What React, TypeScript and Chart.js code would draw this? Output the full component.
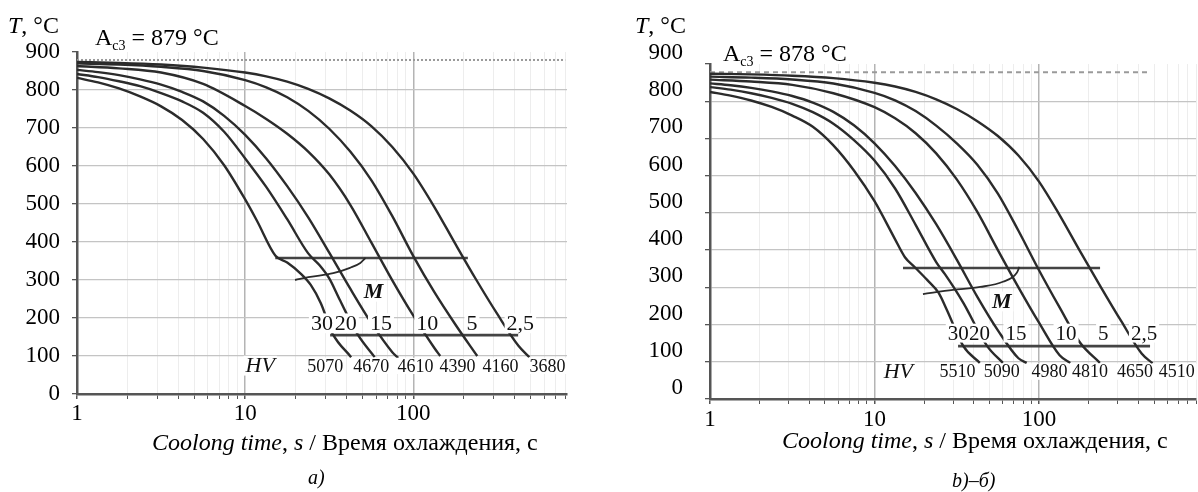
import React, { useEffect, useRef } from "react";
import { Chart, registerables } from "chart.js";
Chart.register(...registerables);

const SERIF = "'Liberation Serif', 'Times New Roman', Times, serif";

// ---------------- shared tick values ----------------
const xGridValues = [1, 2, 3, 4, 5, 6, 7, 8, 9, 10, 20, 30, 40, 50, 60, 70, 80, 90, 100, 200, 300, 400, 500, 600, 700, 800, 900];
const xLabelValues = [1, 10, 100];
const yLabelStep = 100;
const yGridStep = 50;
const yMin = 0;
const yMax = 900;
const rateLabels = ["30", "20", "15", "10", "5", "2,5"];

// ---------------- panel a) : cooling curves (time s, temperature °C) ----------------
const aXMax = 820;
const aAc3 = 879;
const a30_t = [1, 1.334, 1.778, 2.371, 3.162, 4.217, 5.623, 7.499, 10, 11.75, 15.14, 17.78, 21.38, 24.55, 28.18, 33.11, 42.66];
const a30_T = [832, 820, 804, 783, 757, 721, 671, 602, 512, 456, 364, 346, 317, 287, 239, 159, 97];
const a20_t = [1, 1.334, 1.778, 2.371, 3.162, 4.217, 5.623, 7.499, 10, 13.34, 17.78, 23.71, 27.54, 31.62, 36.31, 46.77, 58.88];
const a20_T = [842, 834, 823, 810, 792, 770, 740, 690, 620, 545, 460, 370, 340, 304, 250, 156, 97];
const a15_t = [1, 1.334, 1.778, 2.371, 3.162, 4.217, 5.623, 7.499, 10, 13.34, 17.78, 23.71, 31.62, 42.17, 56.23, 74.99, 81.28];
const a15_T = [853, 847, 839, 828, 814, 795, 770, 732, 682, 620, 547, 465, 372, 277, 187, 110, 95];
const a10_t = [1, 1.778, 3.162, 5.623, 10, 13.34, 17.78, 23.71, 31.62, 42.17, 56.23, 74.99, 100, 133.4, 144.5];
const a10_T = [863, 857, 846, 816, 758, 724, 685, 638, 578, 498, 399, 299, 206, 121, 100];
const a5_t = [1, 1.778, 3.162, 5.623, 10, 13.34, 17.78, 23.71, 31.62, 42.17, 56.23, 74.99, 100, 133.4, 177.8, 239.9];
const a5_T = [870, 867, 861, 850, 826, 807, 781, 745, 698, 638, 563, 468, 363, 268, 183, 100];
const a25_t = [1, 1.778, 3.162, 5.623, 10, 13.34, 17.78, 23.71, 31.62, 42.17, 56.23, 74.99, 100, 133.4, 177.8, 237.1, 316.2, 421.7, 489.8];
const a25_T = [874, 871.5, 867, 859, 846, 836, 822, 803, 778, 746, 705, 650, 580, 492, 395, 300, 210, 127, 97];
const aM_t = [19.8, 24.4, 33.4, 42, 48.4, 52];
const aM_T = [300, 308, 318, 332, 345, 358];
const aUpper_t = [15.1, 211];
const aUpper_T = 358;
const aLower_t = [32, 420];
const aLower_T = 155;
const aRateTimes = [28.6, 39.7, 64.2, 121, 223, 433];
const aRateTemp = 186;
const aHv = ["5070", "4670", "4610", "4390", "4160", "3680"];
const aHvTimes = [29.9, 56.2, 103, 183, 330, 628];
const aHvTemp = 74;
const aHvLabelPos = [12.3, 74.5];
const aMLabelPos = [58, 269];
const aAc3Span = [1, 800];

// ---------------- panel b) : cooling curves (time s, temperature °C) ----------------
const bXMax = 900;
const bAc3 = 878;
const b30_t = [1, 1.334, 1.778, 2.371, 3.162, 4.217, 5.623, 7.499, 10, 13.34, 15.31, 17.58, 20.89, 24.55, 27.54, 34.67, 43.65];
const b30_T = [825, 815, 802, 784.5, 761.5, 731.5, 681.5, 614, 531.5, 429, 381, 354, 320, 285, 239, 142, 97];
const b20_t = [1, 1.334, 1.778, 2.371, 3.162, 4.217, 5.623, 7.499, 10, 13.34, 17.78, 23.71, 26.92, 30.2, 34.67, 48.42, 60.26];
const b20_T = [838, 831, 821.5, 809, 793, 770.5, 739.5, 695.5, 640.5, 565.5, 468, 368, 334, 301, 258, 142, 97];
const b15_t = [1, 1.334, 1.778, 2.371, 3.162, 4.217, 5.623, 7.499, 10, 13.34, 17.78, 23.71, 31.62, 42.17, 56.23, 74.99, 84.14];
const b15_T = [848, 843, 836, 826.5, 814, 796.5, 771.5, 735.5, 687, 626, 553.5, 469.5, 374.5, 274.5, 184.5, 109.5, 97];
const b10_t = [1, 1.778, 3.162, 5.623, 10, 13.34, 17.78, 23.71, 31.62, 42.17, 56.23, 74.99, 100, 133.4, 154.9];
const b10_T = [858, 853, 844, 821.5, 784, 754, 714, 660, 590, 502.5, 400, 300, 205, 117.5, 97];
const b5_t = [1, 1.778, 3.162, 5.623, 10, 13.34, 17.78, 23.71, 31.62, 42.17, 56.23, 74.99, 100, 133.4, 177.8, 234.4];
const b5_T = [866, 863.5, 858.5, 847.5, 822.5, 802.5, 773.5, 734.5, 687, 629.5, 552, 452, 346, 246, 151, 97];
const b25_t = [1, 1.778, 3.162, 5.623, 10, 13.34, 17.78, 23.71, 31.62, 42.17, 56.23, 74.99, 100, 133.4, 177.8, 237.1, 316.2, 421.7, 489.8];
const b25_T = [874, 872, 868.5, 862, 849.5, 839.5, 825, 805, 779, 746.5, 706.5, 654, 584, 494, 396.5, 301.5, 209, 121.5, 96];
const bM_t = [19.7, 30, 43.9, 60.3, 73.3, 76];
const bM_T = [282, 293, 301, 315, 339, 355];
const bUpper_t = [14.9, 235];
const bUpper_T = 352;
const bLower_t = [32.2, 473];
const bLower_T = 142;
const bRateTimes = [32.3, 43.5, 72.4, 146, 246, 435];
const bRateTemp = 177;
const bHv = ["5510", "5090", "4980", "4810", "4650", "4510"];
const bHvTimes = [31.9, 59.3, 115.6, 204, 383, 687];
const bHvTemp = 73.4;
const bHvLabelPos = [13.96, 73.4];
const bMLabelPos = [59.3, 262];
const bAc3Span = [1, 454];

type Note = { text: string; t: number; T: number; size: number; style: string; box: boolean };

function notesPlugin(notes: Note[]) {
  return {
    id: "notes",
    afterDatasetsDraw(chart: any) {
      const { ctx } = chart;
      const xs = chart.scales.x;
      const ys = chart.scales.y;
      ctx.save();
      ctx.textAlign = "center";
      ctx.textBaseline = "middle";
      for (const n of notes) {
        if (!n.box) continue;
        const px = xs.getPixelForValue(n.t);
        const py = ys.getPixelForValue(n.T);
        ctx.font = `${n.style} ${n.size}px ${SERIF}`;
        const w = ctx.measureText(n.text).width;
        const h = n.size * 0.9;
        ctx.fillStyle = "#ffffff";
        ctx.fillRect(px - w / 2 - 2, py - h / 2, w + 4, h);
      }
      for (const n of notes) {
        const px = xs.getPixelForValue(n.t);
        const py = ys.getPixelForValue(n.T);
        ctx.font = `${n.style} ${n.size}px ${SERIF}`;
        ctx.fillStyle = "#111";
        ctx.fillText(n.text, px, py + 1);
      }
      ctx.restore();
    },
  };
}

type PanelSpec = {
  width: number;
  height: number;
  xMax: number;
  yAxisW: number;
  xAxisH: number;
  padTop: number;
  padRight: number;
  yTickPad: number;
  xTickPad: number;
  yLabelOffset: number;
  curves: [number[], number[]][];
  mCurve: [number[], number[]];
  upper: [number[], number];
  lower: [number[], number];
  ac3: number;
  ac3Span: number[];
  ac3Dash: number[];
  notes: Note[];
};

function pts(ts: number[], Ts: number[]) {
  return ts.map((t, i) => ({ x: t, y: Ts[i] }));
}

function makeConfig(p: PanelSpec): any {
  const curveColor = "#2b2b2b";
  const datasets: any[] = p.curves.map(([ts, Ts]) => ({
    data: pts(ts, Ts),
    borderColor: curveColor,
    borderWidth: 2.4,
    pointRadius: 0,
    cubicInterpolationMode: "monotone",
    fill: false,
  }));
  datasets.push({
    data: pts(p.mCurve[0], p.mCurve[1]),
    borderColor: curveColor,
    borderWidth: 1.8,
    pointRadius: 0,
    cubicInterpolationMode: "monotone",
    fill: false,
  });
  datasets.push({
    data: p.upper[0].map((t) => ({ x: t, y: p.upper[1] })),
    borderColor: "#444",
    borderWidth: 2.6,
    pointRadius: 0,
    fill: false,
  });
  datasets.push({
    data: p.lower[0].map((t) => ({ x: t, y: p.lower[1] })),
    borderColor: "#444",
    borderWidth: 2.6,
    pointRadius: 0,
    fill: false,
  });
  datasets.push({
    data: p.ac3Span.map((t) => ({ x: t, y: p.ac3 })),
    borderColor: "#9a9a9a",
    borderWidth: 2,
    borderDash: p.ac3Dash,
    pointRadius: 0,
    fill: false,
  });

  return {
    type: "line",
    data: { datasets },
    options: {
      animation: false,
      responsive: false,
      maintainAspectRatio: false,
      layout: { padding: { top: p.padTop, right: p.padRight, left: 0, bottom: 0 } },
      plugins: { legend: { display: false }, tooltip: { enabled: false } },
      scales: {
        x: {
          type: "logarithmic",
          min: 1,
          max: p.xMax,
          afterBuildTicks: (s: any) => {
            s.ticks = xGridValues.filter((v) => v <= p.xMax).map((v) => ({ value: v }));
          },
          afterFit: (s: any) => {
            s.height = p.xAxisH;
          },
          ticks: {
            autoSkip: false,
            maxRotation: 0,
            padding: p.xTickPad,
            color: "#000",
            font: { family: SERIF, size: 23 },
            callback: (v: any) => (xLabelValues.includes(Number(v)) ? String(v) : ""),
          },
          grid: {
            color: (c: any) => (c.tick && xLabelValues.includes(c.tick.value) ? "#b4b4b4" : "#ededed"),
            lineWidth: (c: any) => (c.tick && xLabelValues.includes(c.tick.value) ? 1.5 : 1),
            tickColor: "#555",
            tickLength: 5,
          },
          border: { color: "#555", width: 2.5 },
        },
        y: {
          type: "linear",
          min: yMin,
          max: yMax,
          afterFit: (s: any) => {
            s.width = p.yAxisW;
          },
          ticks: {
            stepSize: yGridStep,
            padding: p.yTickPad,
            labelOffset: p.yLabelOffset,
            color: "#000",
            font: { family: SERIF, size: 23 },
            callback: (v: any) => (Number(v) % yLabelStep === 0 ? String(v) : ""),
          },
          grid: {
            color: (c: any) => (c.tick && c.tick.value === yMax ? "rgba(0,0,0,0)" : "#c4c4c4"),
            lineWidth: 1.3,
            tickColor: "#555",
            tickLength: 5,
          },
          border: { color: "#555", width: 2.5 },
        },
      },
    },
    plugins: [notesPlugin(p.notes)],
  };
}

function buildNotes(
  rateTimes: number[],
  rateTemp: number,
  rateSize: number,
  hv: string[],
  hvTimes: number[],
  hvTemp: number,
  hvPos: number[],
  mPos: number[]
): Note[] {
  const notes: Note[] = [];
  rateLabels.forEach((r, i) => notes.push({ text: r, t: rateTimes[i], T: rateTemp, size: rateSize, style: "normal", box: true }));
  hv.forEach((h, i) => notes.push({ text: h, t: hvTimes[i], T: hvTemp, size: 18, style: "normal", box: true }));
  notes.push({ text: "HV", t: hvPos[0], T: hvPos[1], size: 22, style: "italic", box: true });
  notes.push({ text: "M", t: mPos[0], T: mPos[1], size: 22, style: "italic bold", box: true });
  return notes;
}

const panelA: PanelSpec = {
  width: 600,
  height: 492,
  xMax: aXMax,
  yAxisW: 77,
  xAxisH: 98,
  padTop: 52,
  padRight: 33,
  yTickPad: 12,
  xTickPad: 1,
  yLabelOffset: 0,
  curves: [
    [a30_t, a30_T],
    [a20_t, a20_T],
    [a15_t, a15_T],
    [a10_t, a10_T],
    [a5_t, a5_T],
    [a25_t, a25_T],
  ],
  mCurve: [aM_t, aM_T],
  upper: [aUpper_t, aUpper_T],
  lower: [aLower_t, aLower_T],
  ac3: aAc3,
  ac3Span: aAc3Span,
  ac3Dash: [2, 2],
  notes: buildNotes(aRateTimes, aRateTemp, 22, aHv, aHvTimes, aHvTemp, aHvLabelPos, aMLabelPos),
};

const panelB: PanelSpec = {
  width: 598,
  height: 492,
  xMax: bXMax,
  yAxisW: 110,
  xAxisH: 93,
  padTop: 64,
  padRight: 2,
  yTickPad: 22,
  xTickPad: 2,
  yLabelOffset: -11,
  curves: [
    [b30_t, b30_T],
    [b20_t, b20_T],
    [b15_t, b15_T],
    [b10_t, b10_T],
    [b5_t, b5_T],
    [b25_t, b25_T],
  ],
  mCurve: [bM_t, bM_T],
  upper: [bUpper_t, bUpper_T],
  lower: [bLower_t, bLower_T],
  ac3: bAc3,
  ac3Span: bAc3Span,
  ac3Dash: [5, 4],
  notes: buildNotes(bRateTimes, bRateTemp, 21, bHv, bHvTimes, bHvTemp, bHvLabelPos, bMLabelPos),
};

function Panel({ spec, left }: { spec: PanelSpec; left: number }) {
  const ref = useRef<HTMLCanvasElement>(null);
  useEffect(() => {
    const chart = new Chart(ref.current as HTMLCanvasElement, makeConfig(spec));
    return () => chart.destroy();
  }, []);
  return (
    <canvas
      ref={ref}
      width={spec.width}
      height={spec.height}
      style={{ position: "absolute", left, top: 0, width: spec.width, height: spec.height }}
    />
  );
}

const txt: React.CSSProperties = {
  position: "absolute",
  fontFamily: SERIF,
  fontSize: 24,
  lineHeight: 1,
  color: "#000",
  whiteSpace: "nowrap",
};

function Ac3({ left, top, value }: { left: number; top: number; value: number }) {
  return (
    <div style={{ ...txt, left, top }}>
      A<sub style={{ fontSize: 14, verticalAlign: "-5px" }}>c3</sub> = {value} °C
    </div>
  );
}

function AxisTitle({ left, top }: { left: number; top: number }) {
  return (
    <div style={{ ...txt, left, top }}>
      <i>Coolong time</i>, <i>s</i> / Время охлаждения, с
    </div>
  );
}

export default function App() {
  return (
    <div style={{ position: "absolute", left: 0, top: 0, width: 1198, height: 492, background: "#fff", overflow: "hidden" }}>
      <Panel spec={panelA} left={0} />
      <Panel spec={panelB} left={600} />
      <div style={{ ...txt, left: 8, top: 13 }}>
        <i>T</i>, °C
      </div>
      <Ac3 left={95} top={25} value={aAc3} />
      <AxisTitle left={152} top={430} />
      <div style={{ ...txt, left: 308, top: 467, fontSize: 20, fontStyle: "italic" }}>a)</div>

      <div style={{ ...txt, left: 635, top: 13 }}>
        <i>T</i>, °C
      </div>
      <Ac3 left={723} top={41} value={bAc3} />
      <AxisTitle left={782} top={428} />
      <div style={{ ...txt, left: 952, top: 470, fontSize: 20, fontStyle: "italic" }}>b)–б)</div>
    </div>
  );
}
